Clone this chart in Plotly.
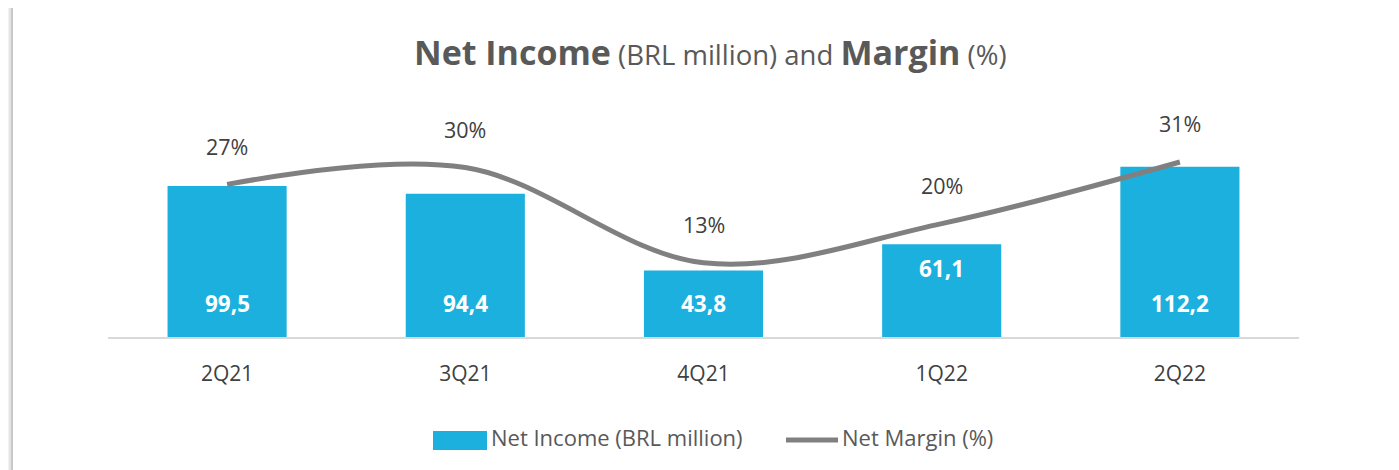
import plotly.graph_objects as go

quarters = ["2Q21", "3Q21", "4Q21", "1Q22", "2Q22"]
net_income = [99.5, 94.4, 43.8, 61.1, 112.2]
net_income_labels = ["99,5", "94,4", "43,8", "61,1", "112,2"]
net_margin = [27, 30, 13, 20, 31]
net_margin_labels = ["27%", "30%", "13%", "20%", "31%"]

BAR = "#1BB0DE"
LINE = "#808080"
TXT = "#404040"
FONT = "Open Sans"

OFF = 8  # default page body margin
W, H = 1399 - OFF, 470 - OFF
ML, MR, MT, MB = 100, 100, 92, 133
PW, PH = W - ML - MR, H - MT - MB


def px_x(p):
    return (p - OFF - ML) / PW


def px_y(p):
    return (H - MB - (p - OFF)) / PH


fig = go.Figure()
fig.add_trace(go.Bar(x=quarters, y=net_income, marker=dict(color=BAR, line=dict(width=0)),
                     width=0.5, name="Net Income (BRL million)", showlegend=False,
                     hoverinfo="skip"))
fig.add_trace(go.Scatter(x=quarters, y=net_margin, yaxis="y2", mode="lines",
                         line=dict(color=LINE, width=5, shape="spline", smoothing=1.0),
                         name="Net Margin (%)", showlegend=False, hoverinfo="skip"))

ann = []
label_near_top = {"1Q22"}
for q, v, t in zip(quarters, net_income, net_income_labels):
    if q in label_near_top:
        ann.append(dict(x=q, y=v, xref="x", yref="y", text=f"<b>{t}</b>", showarrow=False,
                        yanchor="middle", yshift=-24,
                        font=dict(family=FONT, size=22.5, color="white")))
    else:
        ann.append(dict(x=q, y=0, xref="x", yref="y", text=f"<b>{t}</b>", showarrow=False,
                        yanchor="middle", yshift=34,
                        font=dict(family=FONT, size=22.5, color="white")))
for q, v, t in zip(quarters, net_margin, net_margin_labels):
    ann.append(dict(x=q, y=v, xref="x", yref="y2", text=t, showarrow=False, yanchor="middle",
                    yshift=38, font=dict(family=FONT, size=21.5, color=TXT)))

# title
ann.append(dict(x=px_x(710), y=px_y(52), xref="paper", yref="paper", showarrow=False,
                xanchor="center", yanchor="middle",
                text="<b><span style='font-size:34px'>Net Income</span></b> (BRL million) and "
                     "<b><span style='font-size:34px'>Margin</span></b> (%)",
                font=dict(family=FONT, size=27.5, color="#595959")))

# legend (drawn manually to match swatch sizes)
shapes = []
shapes.append(dict(type="rect", xref="paper", yref="paper", x0=px_x(433), x1=px_x(487),
                   y0=px_y(450), y1=px_y(431), fillcolor=BAR, line=dict(width=0)))
ann.append(dict(x=px_x(489), y=px_y(437), xref="paper", yref="paper", xanchor="left",
                yanchor="middle", text="Net Income (BRL million)", showarrow=False,
                font=dict(family=FONT, size=22, color="#595959")))
shapes.append(dict(type="line", xref="paper", yref="paper", x0=px_x(786), x1=px_x(838),
                   y0=px_y(440), y1=px_y(440), line=dict(color=LINE, width=5)))
ann.append(dict(x=px_x(840), y=px_y(437), xref="paper", yref="paper", xanchor="left",
                yanchor="middle", text="Net Margin (%)", showarrow=False,
                font=dict(family=FONT, size=22, color="#595959")))

# left border of the slide panel
for off, col in [(0, "#c8c8c8"), (-2, "#e4e4e4"), (-4, "#f2f2f2")]:
    shapes.append(dict(type="line", xref="paper", yref="paper", x0=px_x(12 + off), x1=px_x(12 + off),
                       y0=px_y(470), y1=px_y(6), line=dict(color=col, width=2)))

fig.update_layout(
    width=W, height=H,
    margin=dict(l=ML, r=MR, t=MT, b=MB, pad=0),
    paper_bgcolor="white", plot_bgcolor="white",
    xaxis=dict(type="category", showline=True, linecolor="#d9d9d9", linewidth=2,
               showgrid=False, ticks="", tickfont=dict(family=FONT, size=21, color=TXT),
               ticklabelstandoff=17, zeroline=False),
    yaxis=dict(visible=False, range=[0, 156.1], showgrid=False, zeroline=False),
    yaxis2=dict(visible=False, range=[-0.25, 42.07], overlaying="y", showgrid=False, zeroline=False),
    annotations=ann, shapes=shapes,
    showlegend=False,
)

fig.write_html("out.html")
